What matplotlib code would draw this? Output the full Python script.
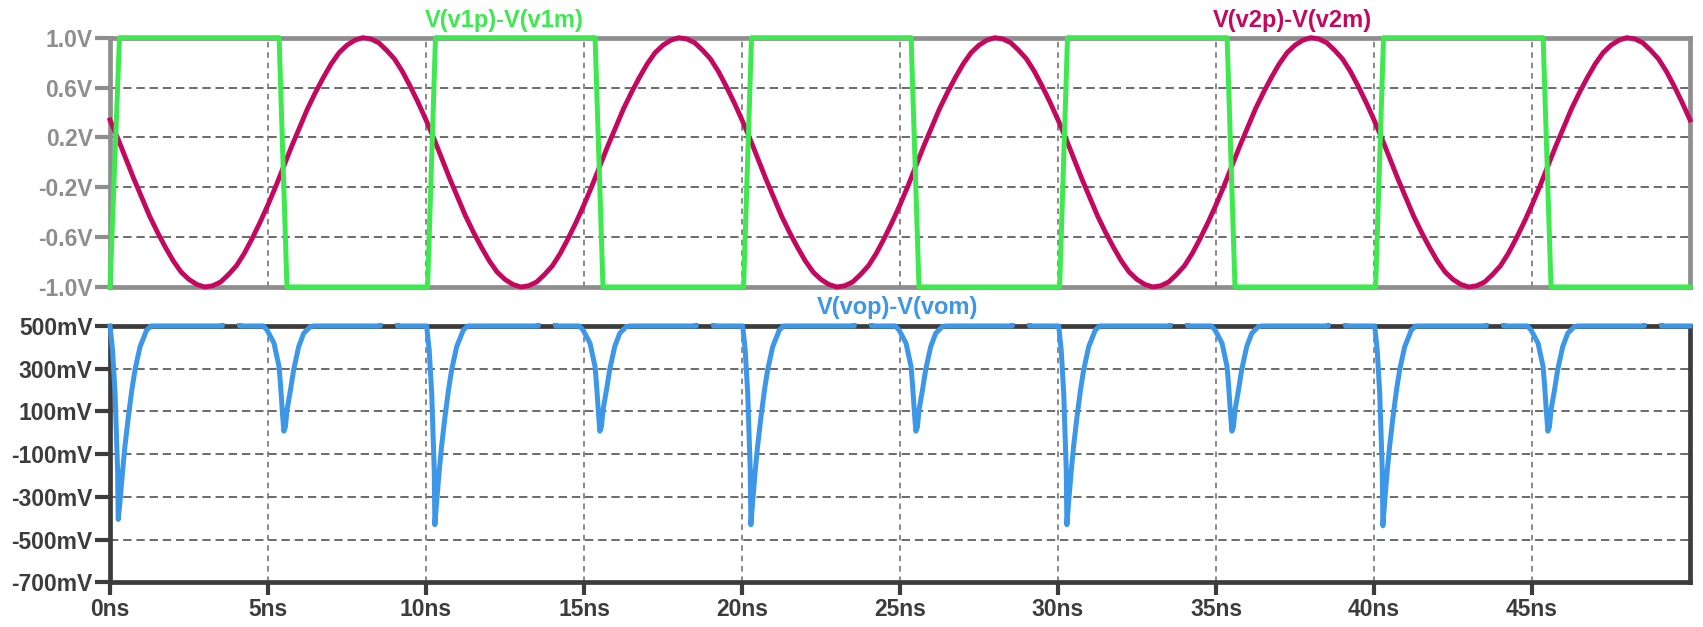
import numpy as np
import matplotlib.pyplot as plt
from matplotlib.patches import Rectangle

plt.rcParams['font.family'] = ['Liberation Sans', 'DejaVu Sans']
plt.rcParams['lines.scale_dashes'] = False

# ---- data (time in ns) ----
x_ticks = [0, 5, 10, 15, 20, 25, 30, 35, 40, 45]
x_labels = ['0ns', '5ns', '10ns', '15ns', '20ns', '25ns', '30ns', '35ns', '40ns', '45ns']

top_ticks = [1.0, 0.6, 0.2, -0.2, -0.6, -1.0]
top_labels = ['1.0V', '0.6V', '0.2V', '-0.2V', '-0.6V', '-1.0V']
bot_ticks = [500, 300, 100, -100, -300, -500, -700]
bot_labels = ['500mV', '300mV', '100mV', '-100mV', '-300mV', '-500mV', '-700mV']

# V(v1p)-V(v1m): corner points of the square wave
sq_t = [0, 0.3, 5.35, 5.6, 10.05, 10.3, 15.35, 15.6, 20.05, 20.3, 25.35, 25.6,
        30.05, 30.3, 35.35, 35.6, 40.05, 40.3, 45.35, 45.6, 50]
sq_v = [-1, 1, 1, -1, -1, 1, 1, -1, -1, 1, 1, -1,
        -1, 1, 1, -1, -1, 1, 1, -1, -1]

# V(v2p)-V(v2m): one 10ns period read every 0.25ns, repeated 5 times
sine_step = 0.25
sine_period = [0.34, 0.19, 0.03, -0.13, -0.28, -0.43, -0.56, -0.68, -0.79, -0.88,
               -0.94, -0.98, -1.00, -0.99, -0.96, -0.90, -0.83, -0.73, -0.61, -0.48,
               -0.34, -0.19, -0.03, 0.13, 0.28, 0.43, 0.56, 0.68, 0.79, 0.88,
               0.94, 0.98, 1.00, 0.99, 0.96, 0.90, 0.83, 0.73, 0.61, 0.48]
sine_cycles = 5

# V(vop)-V(vom) in mV: dips after rising edges (deep) and falling edges (shallow)
rise_start = [0, 10.02, 20.02, 30.02, 40.02]
rise_min = [-405, -430, -430, -430, -435]
rise_dt = [0.0, 0.08, 0.16, 0.21, 0.24, 0.26, 0.32, 0.40, 0.47, 0.58, 0.69, 0.79, 0.95, 1.16, 1.30]
rise_v = [500, 388, 184, -34, -175, None, -316, -175, -66, 75, 200, 294, 403, 481, 500]

fall_center = [5.5, 15.5, 25.5, 35.5, 45.5]
fall_dt = [-0.65, -0.53, -0.31, -0.15, -0.10, -0.05, 0.0, 0.05, 0.10, 0.21, 0.31, 0.47, 0.63, 0.84, 0.95]
fall_v = [500, 481, 419, 309, 216, 106, 8, 28, 106, 200, 294, 403, 466, 497, 500]

# short spans where the trace sits just above 500mV (hidden behind the frame)
over_start = [3.55, 8.55, 13.55, 18.55, 23.55, 28.55, 33.55, 38.55, 43.55, 48.55]
over_len = 0.55
over_v = 540

# ---- build traces ----
sine_t = np.arange(len(sine_period) * sine_cycles + 1) * sine_step
sine_v = np.append(np.tile(sine_period, sine_cycles), sine_period[0])

pts = [(50.0, 500)]
for s, m in zip(rise_start, rise_min):
    for dt, v in zip(rise_dt, rise_v):
        pts.append((s + dt, m if v is None else v))
for c in fall_center:
    for dt, v in zip(fall_dt, fall_v):
        pts.append((c + dt, v))
for s in over_start:
    pts += [(s, 500), (s + 1e-4, over_v), (s + over_len - 1e-4, over_v), (s + over_len, 500)]
pts.sort(key=lambda p: p[0])
out_t = [p[0] for p in pts]
out_v = [p[1] for p in pts]

# ---- colours ----
green = '#3ee94f'
magenta = '#c5085f'
blue = '#3c97e8'
top_frame = '#8e8e8e'
bot_frame = '#3c3c3c'
grid_c = '#6a6a6a'

fig = plt.figure(figsize=(17.03, 6.27), dpi=100)
ax1 = fig.add_axes([0.0646, 0.5423, 0.9278, 0.3976])
ax2 = fig.add_axes([0.0646, 0.0710, 0.9278, 0.4091], sharex=ax1)

for ax, fc, ticks, labels in [(ax1, top_frame, top_ticks, top_labels),
                              (ax2, bot_frame, bot_ticks, bot_labels)]:
    for sp in ax.spines.values():
        sp.set_color(fc)
        sp.set_linewidth(3.4)
    ax.set_yticks(ticks)
    ax.set_yticklabels(labels)
    ax.tick_params(axis='y', length=11, width=3, color=fc, labelcolor=fc,
                   labelsize=16.5, pad=1.5)
    for lab in ax.get_yticklabels():
        lab.set_fontweight('bold')
    for v in ticks[1:-1]:
        ax.axhline(v, color=grid_c, lw=1.4, linestyle=(0, (6, 3.5)), zorder=1)
    for v in x_ticks[1:]:
        ax.axvline(v, color=grid_c, lw=1.1, linestyle=(0, (4, 3.5)), zorder=1)

ax1.set_xlim(0, 50)
ax1.set_ylim(-1, 1)
ax2.set_ylim(-700, 500)

ax1.plot(sine_t, sine_v, color=magenta, lw=3.5, zorder=3, clip_on=False,
         solid_joinstyle='round')
ax1.plot(sq_t, sq_v, color=green, lw=3.6, zorder=4, clip_on=False)
ax1.tick_params(axis='x', bottom=False, labelbottom=False)

line, = ax2.plot(out_t, out_v, color=blue, lw=3.6, zorder=4, solid_joinstyle='round')
line.set_clip_path(Rectangle((-0.01, -0.1), 1.02, 1.1 + 3.0 / 256, transform=ax2.transAxes))

ax2.set_xticks(x_ticks)
ax2.set_xticklabels(x_labels)
ax2.tick_params(axis='x', length=9, width=3, color=bot_frame, labelcolor=bot_frame,
                labelsize=16.5, pad=2)
for lab in ax2.get_xticklabels():
    lab.set_fontweight('bold')

fig.text(0.296, 0.968, 'V(v1p)-V(v1m)', color=green, fontsize=17, fontweight='bold',
         ha='center', va='center')
fig.text(0.759, 0.968, 'V(v2p)-V(v2m)', color=magenta, fontsize=17, fontweight='bold',
         ha='center', va='center')
fig.text(0.527, 0.509, 'V(vop)-V(vom)', color=blue, fontsize=17, fontweight='bold',
         ha='center', va='center')

fig.savefig('out.png', dpi=100, facecolor='white')
